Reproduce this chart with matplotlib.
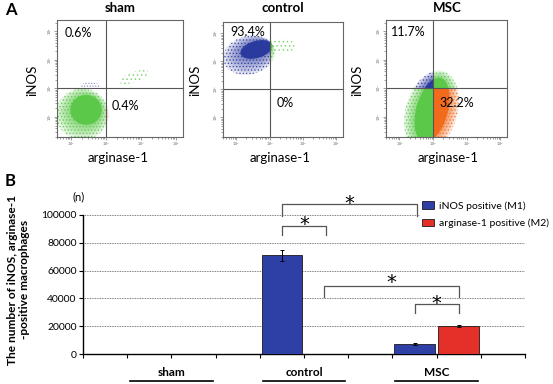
import matplotlib
matplotlib.use('Agg')
import matplotlib.pyplot as plt
import numpy as np
from matplotlib.patches import Ellipse, Rectangle
from matplotlib import transforms

plt.rcParams['font.family'] = ['Lato', 'DejaVu Sans']
plt.rcParams['hatch.linewidth'] = 0.6

# ---- panel A : flow cytometry (values in log10 units) ----
facs_titles = ['sham', 'control', 'MSC']
pct_upper_left = ['0.6%', '93.4%', '11.7%']
pct_lower_right = ['0.4%', '0%', '32.2%']
# cloud = (x centre, y centre, width, height, angle)
sham_core = (2.43, 2.25, 0.90, 1.05, 0)
sham_halo = (2.32, 2.10, 1.50, 1.80, 0)
sham_tail = (3.80, 3.40, 0.90, 0.35, 25)
sham_top = (2.55, 3.08, 0.55, 0.28, 0)
ctrl_core = (2.60, 4.42, 1.00, 0.60, 22)
ctrl_halo = (2.38, 4.22, 1.60, 1.35, 28)
ctrl_tail = (3.35, 4.55, 0.80, 0.55, 0)
msc_core = (2.97, 2.25, 0.95, 2.30, -12)
msc_halo = (2.95, 2.20, 1.55, 2.90, -12)

# ---- panel B ----
groups = ['sham', 'control', 'MSC']
inos_mean = [0, 71000, 7300]
inos_err = [0, 4000, 600]
arg_mean = [0, 0, 20000]
arg_err = [0, 0, 800]
# (x1, x2, top, bottom, star centre y)
brackets = [(4.5, 7.55, 108000, 99600, 112900),
            (4.5, 5.5, 92100, 85300, 97800),
            (5.45, 8.5, 49100, 41200, 55400),
            (7.5, 8.5, 36000, 29500, 41000)]

W, H = 553, 384
green = '#5cc84a'
fblue = '#2b3a9e'
orange = '#f26a1b'
bar_blue = '#2e40a6'
bar_red = '#e5302a'

fig = plt.figure(figsize=(W/100, H/100), dpi=100)


def px(x, y):
    return x/W, 1-y/H


def cloud(ax, spec, alpha, quad_colors, hatch=None):
    xc, yc, w, h, ang = spec
    x0, x1 = ax.get_xlim()
    y0, y1 = ax.get_ylim()
    rects = [((x0, 3), (3, y1)), ((3, x1), (3, y1)), ((x0, 3), (y0, 3)), ((3, x1), (y0, 3))]
    for (xa, ya), c in zip(rects, quad_colors):
        if c is None:
            continue
        if hatch:
            e = Ellipse((xc, yc), w, h, angle=ang, facecolor='none', edgecolor=c, linewidth=0,
                        hatch=hatch, alpha=alpha)
        else:
            e = Ellipse((xc, yc), w, h, angle=ang, facecolor=c, edgecolor='none', alpha=alpha)
        ax.add_patch(e)
        r = Rectangle((xa[0], ya[0]), xa[1]-xa[0], ya[1]-ya[0], transform=ax.transData)
        e.set_clip_path(r)


def blend(core, halo, t):
    return tuple(c*(1-t)+h*t for c, h in zip(core, halo))


def density(ax, core, halo, cols, a=0.14, n=6):
    cloud(ax, halo, 0.8, cols, hatch='.....')
    for k in range(n):
        cloud(ax, blend(core, halo, 1-k/n), a, cols)
    cloud(ax, core, 1.0, cols)


facs_boxes = [(57, 183, 20, 137), (223, 343, 22, 137), (386, 507, 20, 137)]
clouds = [(sham_core, sham_halo, sham_tail), (ctrl_core, ctrl_halo, ctrl_tail), (msc_core, msc_halo, None)]
ul_pos = [(65, 33), (230, 32), (391, 32)]
lr_pos = [(112, 106), (277, 103), (439, 103)]
title_x = [120, 283, 447]
ylab_x = [32, 195, 357]
xlab_x = [118, 280, 448]

for i, (l, r, t, b) in enumerate(facs_boxes):
    ax = fig.add_axes([l/W, 1-b/H, (r-l)/W, (b-t)/H])
    ax.set_xlim(1.6, 5.2)
    ax.set_ylim(1.3, 5.4)
    core, halo, tail = clouds[i]
    if i == 0:
        cloud(ax, sham_top, 0.5, [fblue, None, None, None], hatch='......')
        density(ax, core, halo, [None, green, green, orange])
    elif i == 1:
        density(ax, core, halo, [fblue, green, fblue, orange], a=0.12)
    else:
        density(ax, core, halo, [fblue, green, green, orange])
    if tail is not None:
        cloud(ax, tail, 0.7, [None, green, None, None], hatch='....')
    ax.axvline(3, color='#555555', lw=0.8)
    ax.axhline(3, color='#555555', lw=0.8)
    for s in ax.spines.values():
        s.set_color('#666666')
        s.set_linewidth(0.8)
    ticks = [2, 3, 4, 5]
    ax.set_xticks(ticks)
    ax.set_yticks(ticks)
    ax.set_xticklabels(['$10^%d$' % k for k in ticks])
    ax.set_yticklabels(['$10^%d$' % k for k in ticks], rotation=90, va='center')
    minors = [np.log10(m) + d for d in range(1, 6) for m in range(2, 10)]
    ax.set_xticks([v for v in minors if 1.6 < v < 5.2], minor=True)
    ax.set_yticks([v for v in minors if 1.3 < v < 5.4], minor=True)
    ax.tick_params(which='both', direction='out', length=2, width=0.4, labelsize=2.5, pad=0.5, colors='#555555')
    ax.tick_params(which='minor', length=1.2)

    fig.text(*px(*ul_pos[i]), pct_upper_left[i], fontsize=9, va='center', ha='left')
    fig.text(*px(*lr_pos[i]), pct_lower_right[i], fontsize=9, va='center', ha='left')
    fig.text(*px(title_x[i], 8), facs_titles[i], fontsize=9.5, fontweight='bold', ha='center', va='center')
    fig.text(*px(ylab_x[i], 80), 'iNOS', fontsize=9.5, rotation=90, ha='center', va='center')
    fig.text(*px(xlab_x[i], 158), 'arginase-1', fontsize=9.5, ha='center', va='center')

fig.text(*px(5, 10), 'A', fontsize=12, fontweight='bold', va='center', ha='left')
fig.text(*px(5, 181), 'B', fontsize=12, fontweight='bold', va='center', ha='left')

# ---- panel B ----
axb = fig.add_axes([83/W, 1-354/H, 442/W, 139/H])
xc = np.array([2, 5, 8])
inos_mean = np.array(inos_mean)
arg_mean = np.array(arg_mean)
axb.bar(xc-0.5, inos_mean, width=0.92, color=bar_blue, edgecolor='#1a1a1a', linewidth=0.6,
        label='iNOS positive (M1)', zorder=3)
axb.bar(xc+0.5, arg_mean, width=0.92, color=bar_red, edgecolor='#1a1a1a', linewidth=0.6,
        label='arginase-1 positive (M2)', zorder=3)
m1 = np.array(inos_err) > 0
m2 = np.array(arg_err) > 0
axb.errorbar((xc-0.5)[m1], inos_mean[m1], yerr=np.array(inos_err)[m1], fmt='none', ecolor='black',
             elinewidth=0.7, capsize=1.5, capthick=0.7, zorder=4)
axb.errorbar((xc+0.5)[m2], arg_mean[m2], yerr=np.array(arg_err)[m2], fmt='none', ecolor='black',
             elinewidth=0.7, capsize=1.5, capthick=0.7, zorder=4)

axb.set_xlim(0, 10)
axb.set_ylim(0, 100000)
axb.set_xticks(range(0, 11))
axb.set_xticklabels([])
axb.set_yticks(range(0, 100001, 20000))
axb.tick_params(axis='both', direction='out', length=3, width=0.8, labelsize=7.5, pad=1.5)
axb.yaxis.grid(True, linestyle=(0, (1, 1)), color='#555555', linewidth=0.6)
axb.set_axisbelow(True)
axb.spines['top'].set_visible(False)
axb.spines['right'].set_visible(False)
axb.spines['left'].set_linewidth(1.0)
axb.spines['bottom'].set_linewidth(1.0)

axb.set_ylabel('The number of iNOS, arginase-1\n-positive macrophages', fontsize=8.6, fontweight='bold',
               linespacing=1.1)
axb.yaxis.set_label_coords(-0.12, 0.535)
axb.text(-0.011, 1.13, '(n)', transform=axb.transAxes, fontsize=8, ha='center', va='center')

trans = transforms.blended_transform_factory(axb.transData, axb.transAxes)
for g, x in zip(groups, xc):
    axb.text(x, -0.13, g, transform=trans, fontsize=8.5, fontweight='bold', ha='center', va='center')
    axb.plot([x-0.93, x+0.93], [-0.194, -0.194], transform=trans, color='black', lw=1.2, clip_on=False)

star_off = 11.5 * 100000 / 139   # asterisk centre sits ~11.5 px above its baseline
for x1, x2, top, bot, sy in brackets:
    axb.plot([x1, x1, x2, x2], [bot, top, top, bot], color='#555555', lw=0.9, clip_on=False, zorder=5)
    axb.text((x1+x2)/2, sy - star_off, '*', fontsize=14, family='DejaVu Sans', ha='center',
             va='baseline', zorder=5)

fig.legend(loc='upper left', bbox_to_anchor=px(420, 199), fontsize=7.5, frameon=True, edgecolor='none',
           facecolor='white', framealpha=1, handlelength=1.15, handleheight=0.8, labelspacing=0.75,
           handletextpad=0.5, borderpad=0.2, borderaxespad=0)

fig.savefig('out.png', dpi=100)
